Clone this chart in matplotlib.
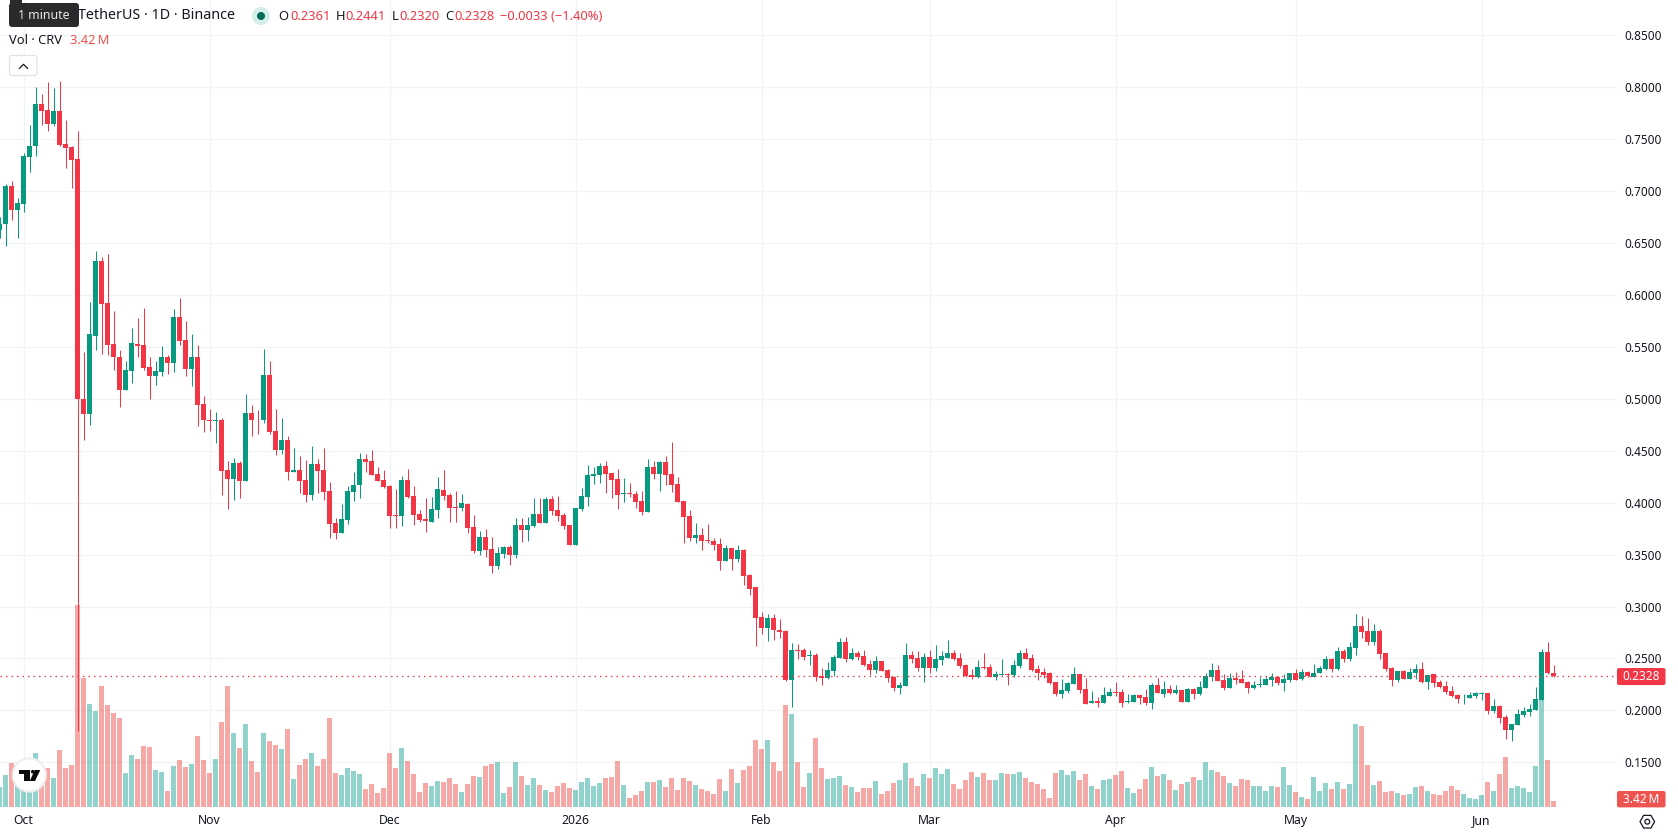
import matplotlib
matplotlib.use("Agg")
import matplotlib.pyplot as plt
import matplotlib.dates as mdates
import numpy as np
import pandas as pd
from matplotlib.patches import FancyBboxPatch, Rectangle, Circle, Polygon, RegularPolygon
from matplotlib.lines import Line2D
from matplotlib.transforms import IdentityTransform
from matplotlib.ticker import FixedLocator, FuncFormatter

W, H = 1678, 835
FONT = "Noto Sans"
plt.rcParams["font.family"] = [FONT, "DejaVu Sans"]

opens = [.6628,
 .668,.705,.682,.688,.733,.7436,.784,.778,.7647,.7773,
 .7455,.7426,.731,.4994,.485,.561,.633,.5925,.553,.5407,
 .509,.527,.553,.5522,.531,.5224,.5263,.5407,.535,.5792,
 .557,.5292,.5407,.4946,.4801,.4782,.4792,.4311,.4224,.4378,
 .4205,.4868,.4801,.4792,.5234,.4686,.4503,.46,.4292,.4311,
 .4215,.4071,.4369,.4311,.4109,.3801,.3705,.383,.41,.4167,
 .4417,.4397,.4272,.4215,.4157,.3878,.3869,.4215,.4061,.3888,
 .384,.3811,.3926,.4119,.4071,.3955,.3946,.3984,.3763,.3532,
 .3667,.3551,.3388,.3503,.3571,.3494,.3782,.3734,.3772,.3888,
 .3801,.4032,.3926,.3878,.3782,.359,.3936,.4051,.4253,.4263,
 .4349,.4282,.4224,.408,.409,.408,.4013,.3907,.434,.4272,
 .4388,.4272,.4176,.4013,.3869,.3657,.3686,.3638,.3628,.3599,
 .3436,.3561,.3455,.3542,.3301,.3186,.2897,.2792,.2888,.2772,
 .2762,.2291,.258,.258,.2522,.2532,.233,.2311,.2378,.2503,
 .2657,.2494,.2551,.2522,.2445,.2388,.2474,.2388,.232,.2214,
 .2233,.2532,.2503,.2407,.2513,.2407,.2484,.2503,.2551,.2503,
 .2436,.2339,.232,.2416,.2416,.232,.2339,.2349,.2339,.2426,
 .2551,.2503,.2397,.2369,.2359,.2272,.2157,.2186,.2253,.2349,
 .2205,.2071,.209,.2071,.2138,.2176,.2176,.208,.208,.2147,
 .2128,.2071,.2244,.2157,.2205,.2167,.2196,.208,.2205,.2157,
 .2215,.2321,.2388,.2292,.2215,.2311,.2301,.2272,.2215,.2244,
 .2244,.2292,.2321,.2263,.2292,.2359,.2301,.2369,.2321,.2359,
 .2397,.2494,.24,.2574,.2497,.2603,.2814,.2766,.266,.2766,
 .2554,.241,.2295,.2381,.2304,.2362,.24,.2276,.2353,.2276,
 .2237,.2189,.2151,.2116,.2122,.2141,.216,.217,.1997,.2045,
 .1939,.1814,.1862,.1958,.1987,.2006,.2103,.2564,.2361]

closes = [.6686,
 .705,.682,.689,.734,.7435,.784,.7773,.7647,.7773,.7446,
 .7417,.730,.4994,.485,.562,.633,.5917,.5522,.54,.509,
 .528,.554,.5513,.53,.5224,.5272,.5407,.535,.5792,.556,
 .5292,.5407,.4936,.4792,.4782,.4792,.4301,.4224,.4378,.4205,
 .4868,.4792,.4792,.5234,.4676,.4503,.46,.4292,.4311,.4205,
 .4071,.4369,.4301,.41,.3792,.3705,.384,.4109,.4167,.4417,
 .4388,.4263,.4205,.4147,.3869,.3869,.4215,.4051,.3878,.383,
 .3821,.3936,.4128,.4061,.3946,.3946,.3994,.3753,.3532,.3667,
 .3542,.3388,.3513,.3571,.3494,.3782,.3734,.3782,.3888,.3801,
 .4032,.3917,.3869,.3772,.359,.3946,.4061,.4263,.4272,.4349,
 .4272,.4215,.4071,.409,.408,.4003,.3907,.434,.4272,.4388,
 .4263,.4167,.4003,.3859,.3657,.3686,.3628,.3628,.359,.3436,
 .3561,.3455,.3542,.3292,.3167,.2888,.2792,.2888,.2772,.2753,
 .2291,.258,.2571,.2513,.2532,.232,.2311,.2388,.2513,.2657,
 .2494,.2551,.2513,.2436,.2388,.2474,.2378,.231,.2214,.2243,
 .2532,.2494,.2407,.2513,.2407,.2494,.2522,.2551,.2494,.2426,
 .233,.232,.2416,.2407,.232,.2349,.2349,.2339,.2436,.2551,
 .2494,.2388,.2359,.234,.2263,.2157,.2196,.2263,.2349,.2196,
 .2061,.209,.2071,.2147,.2176,.2167,.2071,.209,.2147,.2119,
 .2071,.2244,.2167,.2205,.2167,.2196,.208,.2205,.2157,.2224,
 .233,.2388,.2282,.2215,.2311,.2292,.2263,.2215,.2244,.2253,
 .2301,.2321,.2263,.2301,.2359,.2292,.2369,.233,.2359,.2407,
 .2494,.24,.2574,.2497,.2612,.2814,.2756,.266,.2766,.2545,
 .24,.2295,.2381,.2304,.2372,.24,.2276,.2343,.2266,.2228,
 .2179,.2141,.2112,.2122,.2151,.217,.217,.1997,.2045,.1929,
 .1814,.1872,.1968,.1997,.2016,.2112,.2564,.2361,.2328]

highs = [.675,
 .707,.7095,.6935,.7365,.7637,.80,.7936,.805,.7994,.806,
 .7686,.7436,.758,.5455,.5936,.6426,.6367,.6397,.5845,.5474,
 .536,.5686,.578,.5878,.5407,.536,.5513,.5426,.5869,.5974,
 .5753,.562,.5522,.5032,.4907,.4878,.4811,.4397,.4426,.4397,
 .5051,.4936,.4897,.5484,.5369,.4907,.482,.4638,.4522,.4445,
 .4407,.4542,.4417,.4522,.4196,.3849,.3984,.4157,.4292,.4474,
 .4465,.4503,.434,.4311,.4167,.4128,.4253,.4321,.4157,.3926,
 .4042,.4051,.4244,.4311,.409,.4109,.408,.3994,.3878,.3724,
 .3744,.3667,.357,.358,.359,.3849,.3849,.3859,.4042,.4042,
 .4051,.4061,.4061,.3897,.3782,.3946,.4138,.4359,.434,.4378,
 .4397,.4282,.4321,.4234,.4186,.4109,.4109,.4417,.4397,.4397,
 .4445,.458,.4244,.4013,.3926,.3801,.3753,.3792,.3657,.3657,
 .359,.3561,.359,.3551,.3311,.3186,.2945,.2926,.2926,.2878,
 .2772,.2648,.2638,.26,.258,.2551,.2407,.2465,.2532,.2696,
 .2705,.26,.2571,.258,.2484,.2522,.2474,.2397,.233,.2272,
 .2648,.2571,.2571,.2551,.258,.2628,.2571,.2676,.258,.2551,
 .2445,.2397,.2484,.2551,.2445,.2378,.2494,.2359,.2484,.258,
 .26,.2542,.2436,.2407,.2369,.2272,.2301,.2272,.2417,.2349,
 .2311,.2186,.2128,.2224,.2215,.2272,.2205,.2157,.2157,.2147,
 .2205,.2263,.2311,.2282,.2244,.2244,.2196,.2215,.2215,.2282,
 .2359,.2455,.2436,.2349,.2359,.2369,.2388,.2282,.2282,.2321,
 .2321,.2359,.233,.2349,.2359,.2397,.2397,.2378,.2446,.2426,
 .2522,.2506,.2612,.2593,.266,.293,.291,.2891,.2833,.2785,
 .2554,.242,.2381,.2391,.241,.2449,.2468,.2343,.2353,.2295,
 .2285,.2237,.216,.216,.2179,.2179,.2179,.217,.2112,.2055,
 .1958,.1872,.2016,.2035,.2064,.2228,.2593,.266,.2441]

lows = [.655,
 .647,.672,.655,.680,.7186,.734,.7635,.758,.763,.7436,
 .7224,.7032,.180,.46,.4744,.5474,.5436,.5426,.528,.4917,
 .509,.5157,.54,.528,.5003,.5138,.5224,.5244,.5254,.5522,
 .5224,.5128,.4734,.4676,.4686,.4571,.407,.3936,.4022,.405,
 .4205,.4647,.4657,.4763,.4657,.4455,.4465,.4215,.4292,.409,
 .4003,.4022,.409,.4022,.3657,.3647,.3705,.3792,.4013,.4042,
 .4292,.4263,.4205,.4138,.3753,.3753,.3772,.4042,.3782,.3811,
 .3715,.3811,.3849,.4022,.3811,.3811,.3917,.3705,.3513,.3494,
 .3474,.332,.3359,.3465,.3397,.3465,.3619,.3628,.3763,.3801,
 .3801,.3878,.382,.3744,.359,.359,.3917,.3965,.4176,.4186,
 .409,.4042,.3936,.4003,.4051,.3946,.3878,.3907,.4224,.4109,
 .4167,.41,.4003,.3609,.3628,.3609,.3542,.3609,.3542,.3349,
 .3436,.3349,.3426,.3205,.3109,.2618,.2734,.2667,.2676,.2696,
 .2281,.2031,.2494,.2484,.2436,.2282,.2243,.2301,.233,.2503,
 .2465,.2484,.2484,.2426,.2339,.2359,.2378,.2272,.2185,.2157,
 .2233,.2455,.2378,.2272,.2359,.2378,.2436,.2503,.2484,.2407,
 .232,.2301,.231,.2397,.232,.2291,.2339,.2243,.232,.2407,
 .2494,.2378,.2292,.2311,.2253,.2138,.2119,.2167,.2253,.2167,
 .2061,.2071,.2032,.2071,.2138,.2138,.2032,.2071,.208,.2061,
 .2051,.2013,.2167,.2128,.2157,.2157,.208,.208,.2109,.2147,
 .2215,.2282,.2282,.2196,.2215,.2253,.2263,.2167,.2205,.2224,
 .2244,.2234,.2244,.2186,.2272,.2292,.2292,.2321,.2321,.2359,
 .2388,.2372,.2391,.2468,.2478,.2535,.2699,.2631,.2631,.2497,
 .2381,.2237,.2276,.2304,.2304,.2304,.2266,.2208,.2228,.2218,
 .216,.2131,.2074,.2064,.2122,.2122,.2103,.1968,.1978,.1881,
 .1728,.1708,.1862,.1939,.1949,.2006,.2103,.2353,.2320]

# daily traded volume, millions of CRV
volumes = [11.4,
 18.2,25.1,21.1,19,20,30.8,19.2,22.2,16.5,32.5,
 22.2,23.9,115.1,73.5,58.7,54.7,69,58.1,53.6,50.7,
 19.4,29.6,27.4,34.8,34.2,21.1,20,9.1,23.4,26.8,
 22.8,24.5,40.5,26.8,19.4,27.4,48.5,69,42.2,33.6,
 47.3,26.2,20,42.2,37.6,35.3,33.1,44.5,16,23.9,
 27.4,30.8,23.4,27.4,50.7,19.4,18.2,22.2,20.5,18.8,
 10.3,13.1,8,10.8,30.8,22.2,33.6,26.2,18.8,8.6,
 13.7,12,14.8,14.3,16.5,13.1,8.6,13.1,17.7,17.1,
 23.4,24.5,25.7,8,11.4,25.7,17.7,12.5,16.5,12.5,
 9.7,8.6,12,13.7,10.8,9.7,14.3,16.5,12,13.7,
 16.5,17.1,26.2,12.5,5.1,6.8,9.1,14.3,14.3,15.4,
 11.4,16.5,9.7,16.5,14.8,12.5,10.3,9.1,7.4,16,
 9.1,21.7,13.7,21.1,23.4,38.2,33.1,38.2,25.7,20.5,
 58.1,53,25.7,11.4,19.4,39.3,22.2,16,16.5,17.7,
 12.5,11.4,8.6,10.8,10.8,14.8,7.4,9.1,13.7,15.4,
 25.1,16.5,12,18.8,16.5,22.2,18.8,21.7,13.1,10.3,
 15.4,20,17.1,19.4,15.4,15.4,19.4,18.8,18.8,20,
 16.5,14.3,13.1,10.3,5.1,19.4,21.1,18.2,20.5,15.4,
 18.8,12,10.3,15.4,16,18.2,20.5,10.8,8,10.3,
 16,22.8,17.7,18.8,15.4,9.7,13.1,14.3,17.1,15.4,
 25.7,21.1,20,17.7,13.7,12,16,15.4,12,12,
 9.1,12,11.4,22.8,12.5,8.6,5.7,4.6,17.1,9.1,
 13.7,10.3,14.3,10.3,13.1,47.3,46.2,23.9,12.5,14.8,
 8.6,9.1,8,6.8,7.4,11.4,12,9.1,7.4,6.8,
 9.1,12,9.7,7.4,5.1,4.6,6.8,14.3,9.1,18.8,
 28.5,10.8,12,10.8,8.6,23.4,61,26.8,3.42]

price_ticks = [.15,.20,.25,.30,.35,.40,.45,.50,.55,.60,.65,.70,.75,.80,.85]
month_starts = ["2025-10-01","2025-11-01","2025-12-01","2026-01-01","2026-02-01",
                "2026-03-01","2026-04-01","2026-05-01","2026-06-01"]
month_labels = ["Oct","Nov","Dec","2026","Feb","Mar","Apr","May","Jun"]

UP, DOWN = "#089981", "#F23645"
VOL_UP, VOL_DOWN = "#26a69a80", "#ef535080"
TEXT = "#131722"
GRID = "#f2f3f4"

dates = pd.date_range("2025-09-27", periods=len(opens))
x = mdates.date2num(dates)
o, c, h, l, v = map(np.array, (opens, closes, highs, lows, volumes))
rising = c >= o

fig = plt.figure(figsize=(W/100, H/100), dpi=100, facecolor="white")
IDT = IdentityTransform()

PANE_R, PANE_B = 1616, 807.0
box = [0, (H-PANE_B)/H, PANE_R/W, PANE_B/H]
day_px = 6.0
x0 = x[1] - 5.5/day_px
xlim = (x0, x0 + PANE_R/day_px)
px_per_price = 1038.5
p_top = .8 + 87.3/px_per_price
p_bot = .8 - (PANE_B-87.3)/px_per_price
vol_top = PANE_B / 1.754

def layer(z):
    ax = fig.add_axes(box, zorder=z)
    ax.set_xlim(xlim)
    ax.patch.set_alpha(0)
    for s in ax.spines.values():
        s.set_visible(False)
    return ax

# grid and axis labels
ax_bg = layer(1)
ax_bg.set_ylim(p_bot, p_top)
ax_bg.yaxis.tick_right()
ax_bg.yaxis.set_major_locator(FixedLocator(price_ticks))
ax_bg.yaxis.set_major_formatter(FuncFormatter(lambda p, _: f"{p:.4f}"))
ax_bg.xaxis.set_major_locator(FixedLocator(mdates.date2num(pd.to_datetime(month_starts))))
ax_bg.xaxis.set_major_formatter(FuncFormatter(lambda *_: ""))
ax_bg.set_xticklabels(month_labels)
ax_bg.tick_params(axis="y", length=0, pad=5.8, labelsize=8.5, labelcolor=TEXT)
ax_bg.tick_params(axis="x", length=0, pad=4.9, labelsize=8.8, labelcolor=TEXT)
for lab, name in zip(ax_bg.get_xticklabels(), month_labels):
    if name == "2026":
        lab.set_fontweight("bold")
ax_bg.grid(True, color=GRID, lw=0.95)
ax_bg.set_axisbelow(True)

# volume histogram
ax_vol = layer(2)
ax_vol.set_ylim(0, vol_top)
ax_vol.axis("off")
ax_vol.bar(x, v, width=5/day_px, color=[VOL_UP if r else VOL_DOWN for r in rising], linewidth=0)

# candles
ax = layer(3)
ax.set_ylim(p_bot, p_top)
ax.axis("off")
colors = [UP if r else DOWN for r in rising]
ax.vlines(x, l, h, colors=colors, linewidth=0.72)
ax.bar(x, np.abs(c-o), bottom=np.minimum(o, c), width=5/day_px, color=colors, linewidth=0)

# last price marker
last = c[-1]
ax.axhline(last, color=DOWN, lw=0.9, ls=(0, (1.2, 3.2)), zorder=4)
last_y = H - ax.transData.transform((xlim[0], last))[1]

def add_px(artist):
    artist.set_transform(IDT)
    artist.set_zorder(10)
    fig.add_artist(artist)
    return artist

def label(px, py, s, color=TEXT, size=9.4, ha="left", **kw):
    return fig.text(px, H-py, s, color=color, fontsize=size, ha=ha, va="center",
                    transform=IDT, zorder=12, **kw)

def rbox(x1, y1, x2, y2, fc, ec="none", r=2, lw=0):
    return add_px(FancyBboxPatch((x1+r, H-y2+r), x2-x1-2*r, y2-y1-2*r,
                                 boxstyle=f"round,pad={r},rounding_size={r}", fc=fc, ec=ec, lw=lw))

rbox(1617, last_y-8.3, 1665.5, last_y+8.7, DOWN)
label(1641.3, last_y, f"{last:.4f}", color="white", size=8.5, ha="center")
rbox(1617, 791, 1665.5, 807.4, "#ef5350")
label(1641.3, 799.2, f"{v[-1]:.2f}\u2009M", color="white", size=8.5, ha="center")

# header legend
label(78, 15.8, "TetherUS \u00b7 1D \u00b7 Binance", size=10.3)
add_px(Circle((261, H-16), 9, fc="#d6ede9", ec="none"))
add_px(Circle((261, H-16), 4, fc="#006b58", ec="none"))
ohlc_x = [(278, "O", 290), (335.3, "H", 345.7), (391.7, "L", 399), (445, "C", 454.3)]
ohlc_v = [o[-1], h[-1], l[-1], c[-1]]
for (lx, name, vx), val in zip(ohlc_x, ohlc_v):
    label(lx, 16, name, size=9.3)
    label(vx, 16, f"{val:.4f}", color=DOWN, size=9.3)
change = c[-1] - o[-1]
label(500, 16, f"\u2212{abs(change):.4f} (\u2212{abs(change)/o[-1]*100:.2f}%)", color=DOWN, size=9.3)
label(9, 41, "Vol \u00b7 CRV", size=9.3)
label(70.5, 41, f"{v[-1]:.2f}\u2009M", color="#ef5350", size=9.3)

# collapse button
rbox(9.5, 55.5, 37, 75.5, "white", ec="#e0e3eb", r=2.5, lw=0.9)
add_px(Line2D([19.5, 23.5, 27.5], [H-68.3, H-64.3, H-68.3], color=TEXT, lw=0.9))

# tooltip over the symbol name
add_px(Polygon([(10, H), (22, H), (22, H-4), (10, H-4)], closed=True, fc="#2a2a2c", ec="none"))
rbox(9, 3, 79, 27, "#2a2a2c", r=3)
label(44, 15.5, "1 minute", color="#e8e8e8", size=8.9, ha="center")

# attribution badge
add_px(Circle((29.3, H-775), 16.6, fc="white", ec="#eeeeee", lw=1.5))
def logo(pts):
    add_px(Polygon([(a, H-b) for a, b in pts], closed=True, fc="#0b0b0b", ec="none"))
logo([(19, 770), (29.5, 770), (29.5, 781), (24, 781), (24, 773.5), (19, 773.5)])
add_px(Circle((32.7, H-771.7), 1.8, fc="#0b0b0b", ec="none"))
logo([(34.7, 770), (40.3, 770), (35, 781), (29.8, 781)])

# settings gear
add_px(RegularPolygon((1647.3, H-821.7), 6, radius=7.3, orientation=np.pi/6,
                      fc="none", ec=TEXT, lw=0.9))
add_px(Circle((1647.3, H-821.7), 2.4, fc="none", ec=TEXT, lw=0.9))

assert len(opens) == len(closes) == len(highs) == len(lows) == len(volumes), \
    (len(opens), len(closes), len(highs), len(lows), len(volumes))
fig.savefig("out.png", dpi=100)
